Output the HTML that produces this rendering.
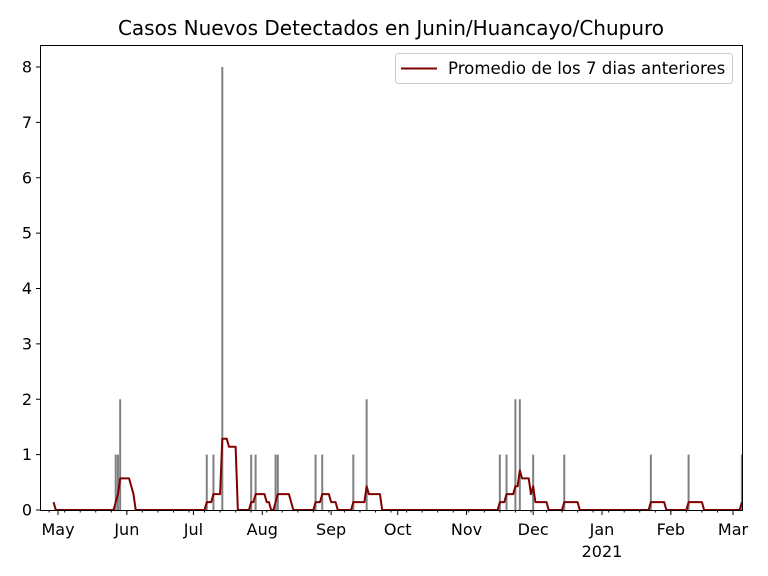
<!DOCTYPE html>
<html><head><meta charset="utf-8"><style>
body{margin:0;background:#fff;}
svg{display:block;font-family:"DejaVu Sans","Liberation Sans",sans-serif;}
</style></head><body>
<svg id="chart" width="768" height="576" viewBox="0 0 768 576" xmlns="http://www.w3.org/2000/svg">
<rect x="0" y="0" width="768" height="576" fill="#fff"/>
<text x="391" y="35" text-anchor="middle" font-size="20" fill="#000">Casos Nuevos Detectados en Junin/Huancayo/Chupuro</text>
<g id="bars"></g>
<g id="line"></g>
<g id="axes"></g>
<rect x="40.5" y="45.5" width="702" height="465" fill="none" stroke="#000" stroke-width="1"/>
<g>
<rect x="395.5" y="53.5" width="337" height="30" rx="3" fill="#fff" fill-opacity="0.8" stroke="#ccc"/>
<line x1="401" y1="68.5" x2="437" y2="68.5" stroke="#800000" stroke-width="2"/>
<text x="448" y="74" font-size="16.6" fill="#000">Promedio de los 7 dias anteriores</text>
</g>
</svg>
<script>
// day offsets from 2020-05-01
const caseDays = [26, 27, 28, 67, 70, 74, 87, 89, 98, 99, 116, 119, 133, 139, 199, 202, 206, 208, 214, 228, 267, 284, 308];
const caseValues = [1, 1, 2, 1, 1, 8, 1, 1, 1, 1, 1, 1, 1, 2, 1, 1, 2, 2, 1, 1, 1, 1, 1];
const priorCaseDays = [-8];
const priorCaseValues = [1];
const startDay = -2, endDay = 308;
const yTicks = [0,1,2,3,4,5,6,7,8];
const monthLabels = ["May","Jun","Jul","Aug","Sep","Oct","Nov","Dec","Jan","Feb","Mar"];
const monthDays = [0,31,61,92,123,153,184,214,245,276,304];

const NS="http://www.w3.org/2000/svg";
const X0=58, PX=(733-58)/304;
const xs=d=>X0+d*PX;
const ys=v=>510-v*(510-67)/8;
function mk(tag,attrs,parent){const e=document.createElementNS(NS,tag);for(const k in attrs)e.setAttribute(k,attrs[k]);parent.appendChild(e);return e;}

const counts={};
priorCaseDays.forEach((d,i)=>counts[d]=(counts[d]||0)+priorCaseValues[i]);
caseDays.forEach((d,i)=>counts[d]=(counts[d]||0)+caseValues[i]);

const bars=document.getElementById('bars');
caseDays.forEach((d,i)=>{
  const b=mk('rect',{x:xs(d-0.45),y:ys(caseValues[i]),width:0.9*PX,height:ys(0)-ys(caseValues[i]),fill:'#808080'},bars);
  
  
});

let pts=[];
for(let d=startDay;d<=endDay;d++){
  let s=0;for(let k=d-6;k<=d;k++)s+=counts[k]||0;
  pts.push(xs(d).toFixed(2)+','+ys(s/7).toFixed(2));
}
const pl=mk('polyline',{points:pts.join(' '),fill:'none',stroke:'#800000','stroke-width':2,'stroke-linejoin':'round'},document.getElementById('line'));



const ax=document.getElementById('axes');
yTicks.forEach(v=>{
  const y=ys(v);
  mk('line',{x1:36,x2:40,y1:y,y2:y,stroke:'#000'},ax);
  const t=mk('text',{x:32,y:y+5.5,'text-anchor':'end','font-size':16,fill:'#000'},ax);
  t.textContent=v;
  
  
});
for(let d=-4;d<=310;d+=7){
  const x=xs(d); if(x<40||x>742)continue;
  mk('line',{x1:x,x2:x,y1:510,y2:512.5,stroke:'#000'},ax);
}
monthLabels.forEach((m,i)=>{
  const x=xs(monthDays[i]);
  mk('line',{x1:x,x2:x,y1:510,y2:515,stroke:'#000'},ax);
  const t=mk('text',{x:x,y:535,'text-anchor':'middle','font-size':16,fill:'#000'},ax);
  t.textContent=m;
  
  
});
const yr=mk('text',{x:xs(245),y:557,'text-anchor':'middle','font-size':16,fill:'#000'},ax);
yr.textContent='2021';


</script>
</body></html>
